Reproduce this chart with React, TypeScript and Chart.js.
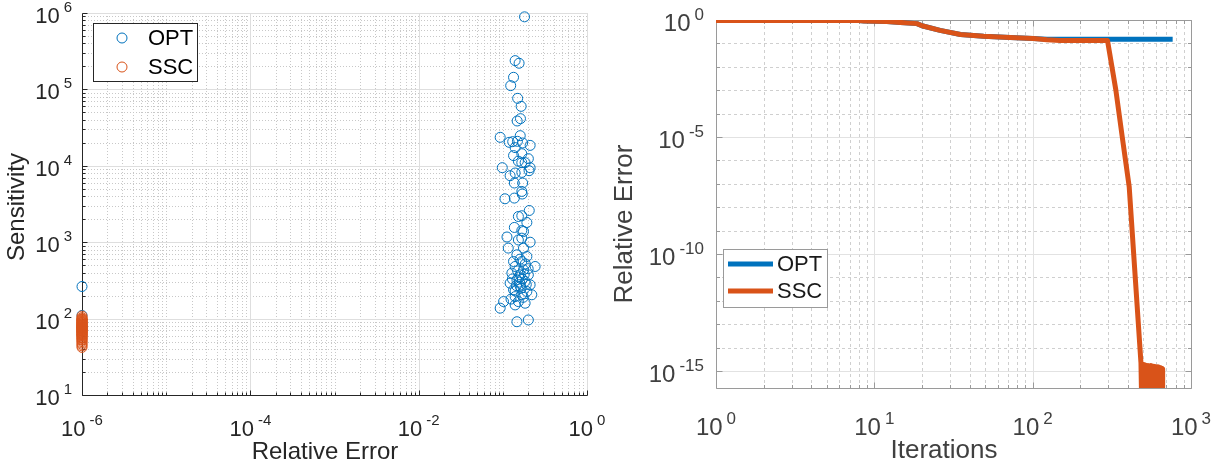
import React, { useEffect, useRef } from "react";
import { Chart, registerables } from "chart.js";

Chart.register(...registerables);

const FONT = "'Liberation Sans', Arial, Helvetica, sans-serif";
const BLUE = "#0072BD";
const ORANGE = "#D95319";

// ---------- Left panel: Sensitivity vs Relative Error ----------
const optRelErr = [
  0.181, 0.140, 0.156, 0.134, 0.124, 0.150, 0.165, 0.162, 0.148, 0.093,
  0.161, 0.119, 0.131, 0.149, 0.172, 0.211, 0.140, 0.134, 0.168, 0.201,
  0.153, 0.168, 0.184, 0.211, 0.0985, 0.122, 0.140, 0.168, 0.205, 0.137,
  0.172, 0.168, 0.170, 0.106, 0.137, 0.206, 0.153, 0.168, 0.193, 0.137,
  0.168, 0.112, 0.168, 0.211, 0.116, 0.176, 0.153, 0.176, 0.147, 0.193,
  0.134, 0.168, 0.242, 0.140, 0.176, 0.128, 0.161, 0.201, 0.147, 0.184,
  0.122, 0.211, 0.161, 0.134, 0.193, 0.168, 0.140, 0.221, 0.153, 0.184,
  0.102, 0.093, 0.140, 0.147, 0.201, 0.158, 0.170, 0.150, 0.185, 0.130,
  0.190, 0.165, 0.145, 0.175, 0.155, 0.200, 0.125, 0.160, 0.180, 0.140,
  1e-6, 1e-6,
];
const optSensitivity = [
  891000, 238000, 220000, 144000, 112000, 76400, 60000, 41400, 38600, 23600,
  24800, 20300, 20700, 20900, 19900, 18500, 17300, 13600, 14400, 12400,
  11500, 11000, 11000, 9450, 9450, 7420, 8050, 8200, 8630, 5950,
  5950, 4620, 4270, 3700, 3780, 2600, 2170, 2220, 1810, 1560,
  1420, 1170, 1130, 1000, 837, 1380, 1070, 837, 684, 650,
  559, 559, 481, 481, 435, 394, 374, 374, 322, 306,
  291, 277, 263, 238, 226, 205, 194, 205, 167, 159,
  167, 137, 151, 91, 96, 300, 330, 420, 520, 330,
  280, 250, 270, 190, 350, 450, 180, 600, 380, 230,
  263, 110,
];
const SSC_REL_ERR = 1e-6;
const sscSensitivity = [
  108, 103, 100, 98, 97, 95, 93, 92, 90, 89, 88, 86, 85, 85, 83, 82, 81, 80,
  79, 78, 77, 76, 75, 75, 74, 73, 72, 71, 70, 69, 68, 68, 66, 65, 64, 63, 62,
  61, 60, 59, 57, 56, 55, 53, 52, 50, 48, 46, 44, 42,
];
const leftXTickExps = [-6, -4, -2, 0];
const leftYTickExps = [1, 2, 3, 4, 5, 6];

// ---------- Right panel: Relative Error vs Iterations ----------
const optIter = [1, 8, 8.6, 12, 14.6, 18.6, 20, 26, 35, 49, 72, 101, 123, 766];
const optErr = [0.96, 0.95, 0.9, 0.86, 0.79, 0.70, 0.57, 0.36, 0.24, 0.20, 0.18, 0.163, 0.152, 0.150];
const sscIter = [
  1, 8, 8.6, 12, 14.6, 18.6, 20, 26, 35, 49, 72, 101, 123, 149, 297, 335, 370, 407,
  483, 486, 490, 494, 498, 502, 506, 510, 515, 520, 525, 530, 535, 540, 546, 552,
  558, 564, 570, 576, 582, 588, 594, 600, 606, 612, 618, 624, 630, 636, 642, 648,
  654, 659, 662, 662.5,
];
const sscErr = [
  0.96, 0.95, 0.9, 0.86, 0.79, 0.70, 0.57, 0.36, 0.24, 0.20, 0.18, 0.163, 0.144, 0.132, 0.132, 1.04e-3, 7.6e-6, 7.6e-8,
  2.2e-15, 2.0e-16, 1.8e-15, 2.2e-16, 1.9e-15, 2.0e-16, 1.7e-15, 2.3e-16, 1.8e-15, 2.0e-16, 1.6e-15, 2.2e-16, 1.7e-15, 2.0e-16, 1.6e-15, 2.1e-16,
  1.7e-15, 2.0e-16, 1.5e-15, 2.2e-16, 1.6e-15, 2.0e-16, 1.5e-15, 2.1e-16, 1.4e-15, 2.0e-16, 1.5e-15, 2.2e-16, 1.4e-15, 2.0e-16, 1.3e-15, 2.1e-16,
  1.3e-15, 2.0e-16, 1.2e-15, 2.5e-16,
];
const rightXTickExps = [0, 1, 2, 3];
const rightYTickExps = [0, -5, -10, -15];
const RIGHT_Y_MIN = 1.86e-16;

// ---------- helpers ----------
function minorsOfDecades(e0: number, e1: number, withDecadeExps: number[]) {
  const out: number[] = [];
  for (let e = e0; e < e1; e++) {
    if (withDecadeExps.includes(e)) out.push(Math.pow(10, e));
    for (let m = 2; m <= 9; m++) out.push(m * Math.pow(10, e));
  }
  return out;
}

type TitleSpec = { text: string; cx: number; cy: number; size: number; color: string; vertical: boolean };

type Decor = {
  xMajor: number[]; xMinor: number[]; yMajor: number[]; yMinor: number[];
  majorColor: string; minorColor: string; minorDash: number[];
  axisColor: string; box: boolean; majorTick: number; minorTick: number;
  xLabelExps: number[]; yLabelExps: number[]; labelColor: string;
  baseFont: number; expFont: number; expRaise: number; expGap: number;
  xLabelBaseline: number; yLabelGap: number; yLabelDy: number;
  titles: TitleSpec[];
  legend: {
    x: number; y: number; w: number; h: number; border: string;
    kind: "marker" | "line"; symX: number; symX2: number; textX: number;
    rowsY: number[]; font: number; color: string;
  };
};

function drawPow(ctx: CanvasRenderingContext2D, d: Decor, x: number, y: number, exp: number, align: "center" | "right") {
  const base = "10";
  const sup = String(exp);
  ctx.font = `${d.baseFont}px ${FONT}`;
  const wb = ctx.measureText(base).width;
  ctx.font = `${d.expFont}px ${FONT}`;
  const we = ctx.measureText(sup).width;
  const total = wb + d.expGap + we;
  const x0 = align === "center" ? x - total / 2 : x - total;
  ctx.textAlign = "left";
  ctx.textBaseline = "alphabetic";
  ctx.fillStyle = d.labelColor;
  ctx.font = `${d.baseFont}px ${FONT}`;
  ctx.fillText(base, x0, y);
  ctx.font = `${d.expFont}px ${FONT}`;
  ctx.fillText(sup, x0 + wb + d.expGap, y - d.expRaise);
}

function makeDecor(d: Decor) {
  return {
    id: "matlabDecor",
    beforeDatasetsDraw(chart: any) {
      const { ctx, chartArea: a } = chart;
      const xs = chart.scales.x;
      const ys = chart.scales.y;
      const snap = (v: number) => Math.round(v) + 0.5;
      ctx.save();
      ctx.lineWidth = 1;
      ctx.strokeStyle = d.minorColor;
      ctx.setLineDash(d.minorDash);
      ctx.beginPath();
      d.xMinor.forEach((v) => {
        const p = snap(xs.getPixelForValue(v));
        if (p > a.left + 1 && p < a.right - 1) { ctx.moveTo(p, a.top); ctx.lineTo(p, a.bottom); }
      });
      d.yMinor.forEach((v) => {
        const p = snap(ys.getPixelForValue(v));
        if (p > a.top + 1 && p < a.bottom - 1) { ctx.moveTo(a.left, p); ctx.lineTo(a.right, p); }
      });
      ctx.stroke();
      ctx.setLineDash([]);
      ctx.strokeStyle = d.majorColor;
      ctx.beginPath();
      d.xMajor.forEach((v) => {
        const p = snap(xs.getPixelForValue(v));
        ctx.moveTo(p, a.top); ctx.lineTo(p, a.bottom);
      });
      d.yMajor.forEach((v) => {
        const p = snap(ys.getPixelForValue(v));
        ctx.moveTo(a.left, p); ctx.lineTo(a.right, p);
      });
      ctx.stroke();
      ctx.strokeStyle = d.axisColor;
      ctx.beginPath();
      const L = snap(a.left), R = snap(a.right), T = snap(a.top), B = snap(a.bottom);
      ctx.moveTo(L, T); ctx.lineTo(L, B); ctx.lineTo(R, B);
      if (d.box) { ctx.lineTo(R, T); ctx.lineTo(L, T); }
      const xt = (list: number[], len: number) => list.forEach((v) => {
        const p = snap(xs.getPixelForValue(v));
        ctx.moveTo(p, B); ctx.lineTo(p, B - len);
        if (d.box) { ctx.moveTo(p, T); ctx.lineTo(p, T + len); }
      });
      const yt = (list: number[], len: number) => list.forEach((v) => {
        const p = snap(ys.getPixelForValue(v));
        ctx.moveTo(L, p); ctx.lineTo(L + len, p);
        if (d.box) { ctx.moveTo(R, p); ctx.lineTo(R - len, p); }
      });
      xt(d.xMajor, d.majorTick); xt(d.xMinor, d.minorTick);
      yt(d.yMajor, d.majorTick); yt(d.yMinor, d.minorTick);
      ctx.stroke();
      ctx.restore();
    },
    afterDatasetsDraw(chart: any) {
      const { ctx } = chart;
      const lg = d.legend;
      ctx.save();
      ctx.fillStyle = "#ffffff";
      ctx.fillRect(lg.x, lg.y, lg.w, lg.h);
      ctx.strokeStyle = lg.border;
      ctx.lineWidth = 1;
      ctx.strokeRect(lg.x + 0.5, lg.y + 0.5, lg.w, lg.h);
      chart.data.datasets.forEach((ds: any, i: number) => {
        const ry = lg.rowsY[i];
        ctx.strokeStyle = ds.borderColor;
        if (lg.kind === "marker") {
          ctx.lineWidth = 1;
          ctx.beginPath();
          ctx.arc(lg.symX, ry, 5, 0, Math.PI * 2);
          ctx.stroke();
        } else {
          ctx.lineWidth = 5;
          ctx.beginPath();
          ctx.moveTo(lg.symX, ry);
          ctx.lineTo(lg.symX2, ry);
          ctx.stroke();
        }
        ctx.fillStyle = lg.color;
        ctx.font = `${lg.font}px ${FONT}`;
        ctx.textAlign = "left";
        ctx.textBaseline = "middle";
        ctx.fillText(ds.label, lg.textX, ry + 1);
      });
      ctx.restore();
    },
    afterDraw(chart: any) {
      const { ctx, chartArea: a } = chart;
      const xs = chart.scales.x;
      const ys = chart.scales.y;
      ctx.save();
      d.xLabelExps.forEach((e) => {
        drawPow(ctx, d, xs.getPixelForValue(Math.pow(10, e)), a.bottom + d.xLabelBaseline, e, "center");
      });
      d.yLabelExps.forEach((e) => {
        drawPow(ctx, d, a.left - d.yLabelGap, ys.getPixelForValue(Math.pow(10, e)) + d.yLabelDy, e, "right");
      });
      d.titles.forEach((t) => {
        ctx.save();
        ctx.translate(t.cx, t.cy);
        if (t.vertical) ctx.rotate(-Math.PI / 2);
        ctx.font = `${t.size}px ${FONT}`;
        ctx.fillStyle = t.color;
        ctx.textAlign = "center";
        ctx.textBaseline = "middle";
        ctx.fillText(t.text, 0, 0);
        ctx.restore();
      });
      ctx.restore();
    },
  };
}

const leftDecor: Decor = {
  xMajor: leftXTickExps.map((e) => Math.pow(10, e)),
  xMinor: minorsOfDecades(-6, 0, [-5, -3, -1]),
  yMajor: leftYTickExps.map((e) => Math.pow(10, e)),
  yMinor: minorsOfDecades(1, 6, []),
  majorColor: "#dedede",
  minorColor: "#c8c8c8",
  minorDash: [1, 2],
  axisColor: "#262626",
  box: false,
  majorTick: 5,
  minorTick: 3,
  xLabelExps: leftXTickExps,
  yLabelExps: leftYTickExps,
  labelColor: "#262626",
  baseFont: 22,
  expFont: 15,
  expRaise: 11,
  expGap: 4,
  xLabelBaseline: 41,
  yLabelGap: 10,
  yLabelDy: 10,
  titles: [
    { text: "Relative Error", cx: 325, cy: 452, size: 24, color: "#262626", vertical: false },
    { text: "Sensitivity", cx: 17, cy: 207, size: 24, color: "#262626", vertical: true },
  ],
  legend: {
    x: 93, y: 23, w: 104, h: 58, border: "#262626", kind: "marker",
    symX: 122, symX2: 0, textX: 148, rowsY: [38, 67], font: 22, color: "#000000",
  },
};

const rightYMinorList: number[] = [];
for (let e = -15; e <= 0; e++) if (!rightYTickExps.includes(e)) rightYMinorList.push(Math.pow(10, e));

const rightDecor: Decor = {
  xMajor: rightXTickExps.map((e) => Math.pow(10, e)),
  xMinor: minorsOfDecades(0, 3, []),
  yMajor: rightYTickExps.map((e) => Math.pow(10, e)),
  yMinor: rightYMinorList,
  majorColor: "#e2e2e2",
  minorColor: "#cfcfcf",
  minorDash: [3, 3],
  axisColor: "#9a9a9a",
  box: true,
  majorTick: 6,
  minorTick: 3.5,
  xLabelExps: rightXTickExps,
  yLabelExps: rightYTickExps,
  labelColor: "#404040",
  baseFont: 24,
  expFont: 17,
  expRaise: 11,
  expGap: 4,
  xLabelBaseline: 47,
  yLabelGap: 12,
  yLabelDy: 11,
  titles: [
    { text: "Iterations", cx: 344, cy: 451, size: 26, color: "#404040", vertical: false },
    { text: "Relative Error", cx: 25, cy: 224, size: 26, color: "#404040", vertical: true },
  ],
  legend: {
    x: 123, y: 249, w: 104, h: 58, border: "#9a9a9a", kind: "line",
    symX: 128, symX2: 173, textX: 177, rowsY: [264, 291], font: 22, color: "#1a1a1a",
  },
};

function leftConfig(): any {
  return {
    type: "scatter",
    data: {
      datasets: [
        {
          label: "OPT",
          data: optRelErr.map((x, i) => ({ x, y: optSensitivity[i] })),
          borderColor: BLUE,
          backgroundColor: "rgba(0,0,0,0)",
          pointRadius: 5,
          pointHoverRadius: 5,
          pointBorderWidth: 1,
          order: 1,
          clip: false,
        },
        {
          label: "SSC",
          data: sscSensitivity.map((y) => ({ x: SSC_REL_ERR, y })),
          borderColor: ORANGE,
          backgroundColor: "rgba(0,0,0,0)",
          pointRadius: 5,
          pointHoverRadius: 5,
          pointBorderWidth: 1,
          order: 0,
          clip: false,
        },
      ],
    },
    options: {
      animation: false,
      responsive: false,
      devicePixelRatio: 1,
      events: [],
      layout: { padding: { left: 0, right: 28, top: 13, bottom: 0 } },
      plugins: { legend: { display: false }, tooltip: { enabled: false } },
      scales: {
        x: {
          type: "logarithmic", min: 1e-6, max: 1,
          ticks: { display: false }, grid: { display: false }, border: { display: false },
          title: { display: false },
          afterFit: (s: any) => { s.height = 73; },
        },
        y: {
          type: "logarithmic", min: 10, max: 1e6,
          ticks: { display: false }, grid: { display: false }, border: { display: false },
          title: { display: false },
          afterFit: (s: any) => { s.width = 82; },
        },
      },
    },
    plugins: [makeDecor(leftDecor)],
  };
}

function rightConfig(): any {
  return {
    type: "scatter",
    data: {
      datasets: [
        {
          label: "OPT",
          data: optIter.map((x, i) => ({ x, y: optErr[i] })),
          showLine: true,
          borderColor: BLUE,
          backgroundColor: BLUE,
          borderWidth: 5,
          pointRadius: 0,
          borderJoinStyle: "round",
          borderCapStyle: "butt",
          order: 1,
        },
        {
          label: "SSC",
          data: sscIter.map((x, i) => ({ x, y: sscErr[i] })),
          showLine: true,
          borderColor: ORANGE,
          backgroundColor: ORANGE,
          borderWidth: 5,
          pointRadius: 0,
          borderJoinStyle: "round",
          borderCapStyle: "butt",
          order: 0,
        },
      ],
    },
    options: {
      animation: false,
      responsive: false,
      devicePixelRatio: 1,
      events: [],
      layout: { padding: { left: 0, right: 32, top: 20, bottom: 0 } },
      plugins: { legend: { display: false }, tooltip: { enabled: false } },
      scales: {
        x: {
          type: "logarithmic", min: 1, max: 1000,
          ticks: { display: false }, grid: { display: false }, border: { display: false },
          title: { display: false },
          afterFit: (s: any) => { s.height = 80; },
        },
        y: {
          type: "logarithmic", min: RIGHT_Y_MIN, max: 1,
          ticks: { display: false }, grid: { display: false }, border: { display: false },
          title: { display: false },
          afterFit: (s: any) => { s.width = 116; },
        },
      },
    },
    plugins: [makeDecor(rightDecor)],
  };
}

export default function App() {
  const leftRef = useRef<HTMLCanvasElement>(null);
  const rightRef = useRef<HTMLCanvasElement>(null);
  useEffect(() => {
    const c1 = new Chart(leftRef.current as HTMLCanvasElement, leftConfig());
    const c2 = new Chart(rightRef.current as HTMLCanvasElement, rightConfig());
    return () => {
      c1.destroy();
      c2.destroy();
    };
  }, []);
  return (
    <div style={{ position: "absolute", left: 0, top: 0, width: 1223, height: 468, background: "#ffffff" }}>
      <canvas ref={leftRef} width={615} height={468} style={{ position: "absolute", left: 0, top: 0, width: 615, height: 468 }} />
      <canvas ref={rightRef} width={623} height={468} style={{ position: "absolute", left: 600, top: 0, width: 623, height: 468 }} />
    </div>
  );
}
